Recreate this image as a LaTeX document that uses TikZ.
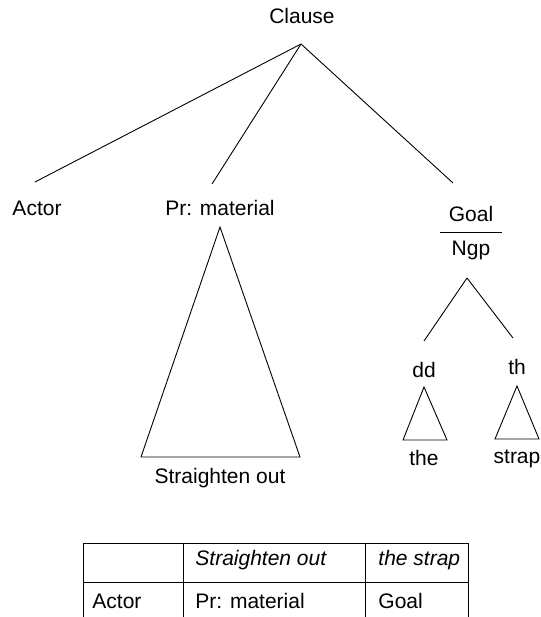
\documentclass[tikz,border=0pt]{standalone}
\usepackage{fontspec}
\setmainfont{Liberation Sans}
\usepackage{tikz}
\usetikzlibrary{positioning, calc}

\begin{document}
\begin{tikzpicture}[x=1pt, y=-1pt, line width=0.9pt,
  every node/.style={font=\fontsize{21}{25}\selectfont, inner sep=0pt},
  lbl/.style={anchor=base},
  cell/.style={anchor=base west}]
\useasboundingbox (0,0) rectangle (540,617);
% tree labels
\node[lbl] (clause) at (302,24) {Clause};
\node[lbl] (actor) at (37,216) {Actor};
\node[lbl] (prmat) at (220,216) {Pr: material};
\node[lbl] (goal) at (471,222) {Goal};
\node[lbl] (ngp) at (471,255) {Ngp};
\node[lbl] (stout) at (220,483) {Straighten out};
\node[lbl] (dd) at (424,377) {dd};
\node[lbl] (th) at (517,374) {th};
\node[lbl] (the) at (424,465) {the};
\node[lbl] (strap) at (517,463) {strap};
% branch points
\coordinate (clausetop) at (301,44);
\coordinate (actorend) at (35,182);
\coordinate (prend) at (212,184);
\coordinate (goalend) at (453,183);
\coordinate (ngptop) at (467,278);
\coordinate (ddend) at (424,341);
\coordinate (thend) at (513,338);
\draw (clausetop) -- (actorend);
\draw (clausetop) -- (prend);
\draw (clausetop) -- (goalend);
\draw (440,232) -- (502,232);
\draw (ngptop) -- (ddend);
\draw (ngptop) -- (thend);
% triangles
\draw (220,227) -- (141,457) -- (300,457) -- cycle;
\draw (424,387) -- (403,440) -- (447,440) -- cycle;
\draw (517,386) -- (495,439) -- (539,439) -- cycle;
% table
\draw (83,617) -- (83,543) -- (468,543) -- (468,617);
\draw (83,582) -- (468,582);
\draw (183,543) -- (183,617);
\draw (365,543) -- (365,617);
\node[cell] (c12) at (195,565) {\itshape Straighten out};
\node[cell] (c13) at (378,565) {\itshape the strap};
\node[cell] (c21) at (92,608) {Actor};
\node[cell] (c22) at (195,608) {Pr: material};
\node[cell] (c23) at (378,608) {Goal};
\end{tikzpicture}
\end{document}
